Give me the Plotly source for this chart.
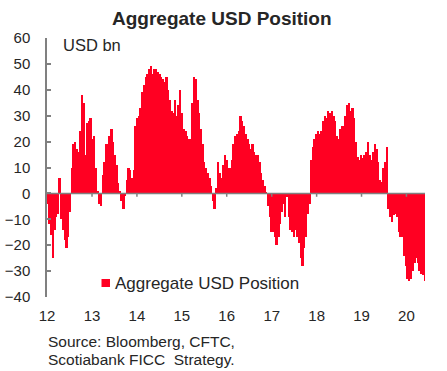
import pandas as pd
import plotly.graph_objects as go

# Aggregate USD position (USD bn), fortnightly readings, Jan 2012 - May 2020
values = [
    -4, -12, -16, -25, -14, -9, -8, 6, -10, -14,
    -18, -21, -17, -7, 10, 19, 20, 17, 16, 24,
    38, 35, 15, 27, 28, 29, 21, 22, 10, 1,
    -4, -5, 7, 12, 19, 19, 22, 25, 20, 15,
    11, 4, 1, -3, -6, -1, 5, 10, 9, 6,
    9, 26, 29, 30, 33, 39, 42, 45, 46, 48,
    49, 46, 48, 48, 47, 46, 45, 44, 43, 45,
    40, 36, 32, 31, 36, 30, 34, 40, 31, 25,
    24, 22, 21, 21, 35, 45, 44, 36, 31, 25,
    19, 12, 10, 8, 6, 3, -3, -6, 2, 12,
    8, 6, 11, 15, 13, 10, 10, 13, 19, 22,
    23, 24, 30, 28, 26, 23, 21, 19, 17, 19,
    16, 15, 15, 12, 8, 5, 3, 0.5, -5, -9,
    -15, -15, -17, -20, -17, -12, -7, -4, -9, -1.5,
    -9, -14, -15, -17, -14, -17, -19, -25, -28, -21,
    -17, -8, -4, 13, 18, 21, 23, 24, 23, 24,
    28, 30, 29, 32, 31, 32, 30, 28, 22, 21,
    25, 26, 26, 30, 34, 35, 32, 33, 29, 20,
    14, 13, 15, 13.5, 15, 16, 20, 15, 13, 16,
    19, 17, 12, 5, 4.5, 10, 12, 18, -6, -9,
    -11, -8.4, -8, -9, -15, -17, -17, -24, -28, -33,
    -34, -33, -30, -27, -25, -27, -30, -31, -31.5, -34,
]
dates = pd.date_range("2012-01-08", periods=len(values), freq="14D")

year_ticks = [f"{y}-01-01" for y in range(2012, 2021)]
year_labels = [str(y)[2:] for y in range(2012, 2021)]
y_ticks = list(range(-40, 61, 10))

title_text = "Aggregate USD Position"
unit_text = "USD bn"
legend_text = "Aggregate USD Position"
source_lines = ["Source: Bloomberg, CFTC,", "Scotiabank FICC  Strategy."]

RED = "#FF0022"
GREY = "#808080"
TXT = "#262626"
FONT = "Arial, Liberation Sans, sans-serif"

fig = go.Figure()
fig.add_trace(go.Bar(
    x=dates, y=values,
    width=15 * 24 * 3600 * 1000,
    marker=dict(color=RED, line=dict(width=0)),
    showlegend=False,
))

# geometry helpers (paper coords from pixels)
W, H = 447, 371
ML, MR, MT, MB = 47, 22, 38, 74
PW, PH = W - ML - MR, H - MT - MB
def px(x):
    return (x - ML) / PW
def py(y):
    return (H - MB - y) / PH

shapes = [
    dict(type="line", xref="paper", yref="y", x0=0, x1=1, y0=0, y1=0,
         line=dict(color=GREY, width=1.5), layer="above"),
    dict(type="rect", xref="paper", yref="paper",
         x0=px(101.5), x1=px(110), y0=py(287), y1=py(279),
         fillcolor=RED, line=dict(width=0)),
]
for d in year_ticks[1:]:
    shapes.append(dict(type="line", xref="x", yref="y", x0=d, x1=d, y0=0, y1=-1.3,
                       line=dict(color=GREY, width=1.5), layer="above"))

annotations = [
    dict(text=f"<b>{title_text}</b>", x=px(222), y=py(19), xref="paper", yref="paper",
         xanchor="center", yanchor="middle", showarrow=False,
         font=dict(family=FONT, size=19, color=TXT)),
    dict(text=unit_text, x=px(61), y=py(45), xref="paper", yref="paper",
         xanchor="left", yanchor="middle", showarrow=False,
         font=dict(family=FONT, size=16.5, color=TXT)),
    dict(text=legend_text, x=px(113), y=py(283), xref="paper", yref="paper",
         xanchor="left", yanchor="middle", showarrow=False,
         font=dict(family=FONT, size=17, color=TXT)),
    dict(text=source_lines[0], x=px(46), y=py(341), xref="paper", yref="paper",
         xanchor="left", yanchor="middle", showarrow=False,
         font=dict(family=FONT, size=15.5, color=TXT)),
    dict(text=source_lines[1], x=px(46), y=py(359), xref="paper", yref="paper",
         xanchor="left", yanchor="middle", showarrow=False,
         font=dict(family=FONT, size=15.5, color=TXT)),
]

fig.update_layout(
    width=W, height=H,
    margin=dict(l=ML, r=MR, t=MT, b=MB, pad=0, autoexpand=False),
    paper_bgcolor="white", plot_bgcolor="white",
    bargap=0,
    shapes=shapes, annotations=annotations,
    font=dict(family=FONT, color=TXT),
    xaxis=dict(
        type="date", range=["2012-01-01", "2020-05-31"],
        tickmode="array", tickvals=year_ticks, ticktext=year_labels,
        showgrid=False, zeroline=False, showline=False, ticks="",
        ticklabelstandoff=8, automargin=False,
        tickfont=dict(family=FONT, size=15, color=TXT),
    ),
    yaxis=dict(
        range=[-40, 60], tickmode="array", tickvals=y_ticks,
        showgrid=False, zeroline=False,
        showline=True, linecolor=GREY, linewidth=1.5,
        ticks="inside", ticklen=4, tickcolor=GREY, tickwidth=1.5,
        ticklabelstandoff=12, automargin=False,
        tickfont=dict(family=FONT, size=15, color=TXT),
    ),
)

fig.write_html(
    "out.html",
    config={"displayModeBar": False},
    post_script="document.body.style.margin='0';document.body.style.overflow='hidden';",
)
